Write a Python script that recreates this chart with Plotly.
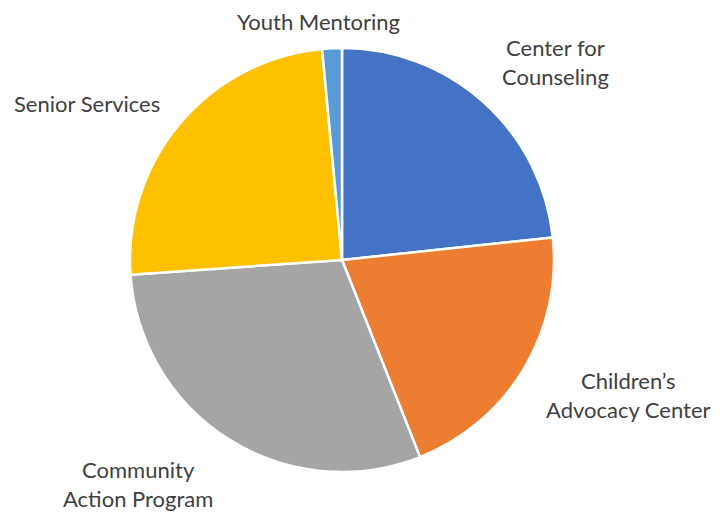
import plotly.graph_objects as go

# page has an 8px body margin; build the figure so it fills the rest of the window
OFF = 8
W, H = 725 - OFF, 512 - OFF
labels = ["Center for Counseling", "Children’s Advocacy Center", "Community Action Program",
          "Senior Services", "Youth Mentoring"]
values = [23.3, 20.7, 29.9, 24.6, 1.5]
colors = ["#4472C4", "#ED7D31", "#A5A5A5", "#FFC000", "#5B9BD5"]
label_text = ["Center for<br>Counseling", "Children’s<br>Advocacy Center", "Community<br>Action Program",
              "Senior Services", "Youth Mentoring"]
label_pos = [(555, 62), (628, 395), (138, 484), (87, 103), (318, 21)]

cx, cy, r = 342 - OFF, 260 - OFF, 212
fig = go.Figure(go.Pie(
    labels=labels, values=values, sort=False, direction="clockwise", rotation=0,
    marker=dict(colors=colors, line=dict(color="white", width=2.5)),
    textinfo="none", hoverinfo="label+percent", showlegend=False,
    domain=dict(x=[(cx - r) / W, (cx + r) / W], y=[(H - cy - r) / H, (H - cy + r) / H]),
))
for t, (x, y) in zip(label_text, label_pos):
    fig.add_annotation(x=(x - OFF) / W, y=1 - (y - OFF) / H, xref="paper", yref="paper", text=t,
                       showarrow=False, align="center", xanchor="center", yanchor="middle",
                       font=dict(family="Lato, Open Sans, sans-serif", size=22, color="#404040"))
fig.update_layout(width=W, height=H, margin=dict(l=0, r=0, t=0, b=0),
                  paper_bgcolor="white", plot_bgcolor="white")
fig.write_html("out.html")
